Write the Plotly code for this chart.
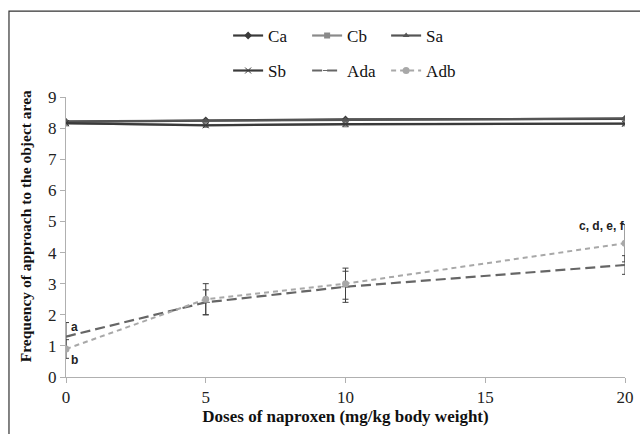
import plotly.graph_objects as go

doses = [0, 5, 10, 20]
ca = [8.20, 8.25, 8.28, 8.30]
cb = [8.15, 8.10, 8.12, 8.15]
sa = [8.22, 8.24, 8.27, 8.31]
sb = [8.16, 8.09, 8.13, 8.14]
ada = [1.30, 2.40, 2.90, 3.60]
ada_err = [0.45, 0.40, 0.50, 0.30]
adb = [0.90, 2.50, 3.00, 4.30]
adb_err = [0.30, 0.50, 0.50, 0.60]

fig = go.Figure()

def add(name, y, color, symbol, width=2.2, legend="legend", err=None, msize=6):
    fig.add_trace(go.Scatter(
        x=doses, y=y, name=name, mode="lines+markers", legend=legend,
        line=dict(color=color, width=width),
        marker=dict(symbol=symbol, size=msize, color=color),
        error_y=dict(type="data", array=err, visible=True, color="#404040",
                     thickness=1, width=3) if err is not None else None,
    ))

add("Ca", ca, "#3a3a3a", "diamond")
add("Cb", cb, "#8a8a8a", "square")
add("Sa", sa, "#555555", "triangle-up")
add("Sb", sb, "#3a3a3a", "x-thin-open", legend="legend2")
add("Ada", ada, "#666666", "line-ew-open", width=2.2, legend="legend2", err=ada_err)
add("Adb", adb, "#a8a8a8", "circle", width=2, legend="legend2", err=adb_err, msize=7)
fig.data[4].line.dash = "10px,5px"
fig.data[5].line.dash = "5px,4px"

SERIF = "Liberation Serif"
lfont = dict(family=SERIF, size=17, color="#111")
tfont = dict(family=SERIF, size=17, color="#222")
fig.update_layout(
    width=640, height=434,
    margin=dict(l=66, r=15, t=97, b=57, autoexpand=False),
    paper_bgcolor="white", plot_bgcolor="white",
    font=dict(family=SERIF),
    legend=dict(orientation="h", x=0.29, y=1.218, xanchor="left", yanchor="middle",
                entrywidth=34, font=lfont, bgcolor="rgba(0,0,0,0)", itemwidth=30),
    legend2=dict(orientation="h", x=0.29, y=1.093, xanchor="left", yanchor="middle",
                 entrywidth=34, font=lfont, bgcolor="rgba(0,0,0,0)", itemwidth=30),
    xaxis=dict(range=[0, 20], tickvals=[0, 5, 10, 15, 20], showgrid=False, zeroline=False,
               showline=True, linecolor="#b0b0b0", linewidth=1, ticks="outside",
               ticklen=5, tickcolor="#b0b0b0", automargin=False, tickfont=tfont,
               title=dict(text="<b>Doses of naproxen (mg/kg body weight)</b>",
                          font=dict(family=SERIF, size=17, color="#111"), standoff=0)),
    yaxis=dict(range=[0, 9], dtick=1, showgrid=False, zeroline=False,
               showline=True, linecolor="#b0b0b0", linewidth=1, ticks="outside",
               ticklen=5, tickcolor="#b0b0b0", automargin=False, tickfont=tfont),
)

fig.add_annotation(xref="paper", yref="paper", x=-0.073, y=0.539, textangle=-90,
                   xanchor="center", yanchor="middle",
                   text="<b>Frequency of approach to the object area</b>", showarrow=False,
                   font=dict(family=SERIF, size=15.5, color="#111"))

afont = dict(family="Liberation Sans", size=12, color="#222")
fig.add_annotation(x=0, y=1.6, text="<b>a</b>", showarrow=False, xanchor="left", xshift=3, font=afont)
fig.add_annotation(x=0, y=0.55, text="<b>b</b>", showarrow=False, xanchor="left", xshift=3, font=afont)
fig.add_annotation(x=20, y=4.85, text="<b>c, d, e, f</b>", showarrow=False, xanchor="right", xshift=2, font=afont)

fig.add_shape(type="rect", xref="paper", yref="paper", x0=-0.102, y0=-0.4, x1=1.2, y1=1.307,
              line=dict(color="#333", width=1.2), fillcolor="rgba(0,0,0,0)", layer="below")

fig.write_html("out.html", config={"displayModeBar": False},
               post_script="document.body.style.margin='0';document.body.style.padding='0';")
